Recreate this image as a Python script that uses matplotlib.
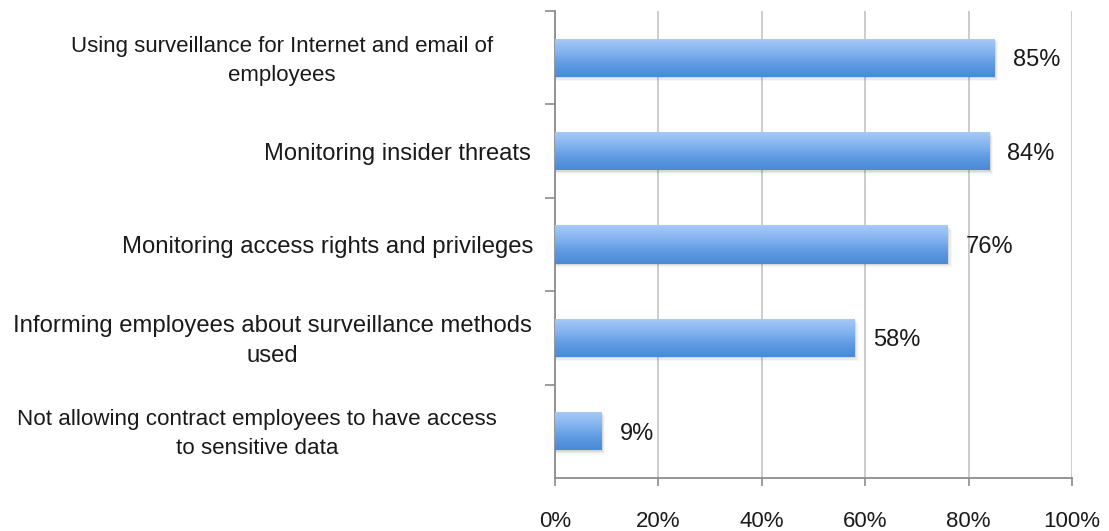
import numpy as np
import matplotlib
matplotlib.use("Agg")
import matplotlib.pyplot as plt
from matplotlib.colors import LinearSegmentedColormap
from matplotlib.ticker import FixedLocator, PercentFormatter

plt.rcParams["font.family"] = ["Liberation Sans", "DejaVu Sans"]

categories = [
    "Using surveillance for Internet and email of\nemployees",
    "Monitoring insider threats",
    "Monitoring access rights and privileges",
    "Informing employees about surveillance methods\nused",
    "Not allowing contract employees to have access\nto sensitive data",
]
values = [85, 84, 76, 58, 9]
x_ticks = [0, 20, 40, 60, 80, 100]

# gap between each category label's right edge and the value axis (pixels),
# and the font size of each category label
label_gap_px = [62, 24, 22, 23, 58]
label_sizes = [16, 17.1, 17.2, 17.2, 16.1]

fig = plt.figure(figsize=(11.09, 5.31), dpi=100)
ax = fig.add_axes([555 / 1109, 1 - 478 / 531, (1072 - 555) / 1109, (478 - 11) / 531])

ypos = np.arange(len(categories))
bars = ax.barh(ypos, values, height=0.41, color="none", edgecolor="none", zorder=3)

# vertical blue gradient inside each bar, with a soft drop shadow
grad_cmap = LinearSegmentedColormap.from_list(
    "bar_grad", ["#a9cbf6", "#86b5f0", "#5f9be3", "#4a89d6"])
gradient = np.linspace(0, 1, 256).reshape(-1, 1)
for bar in bars:
    x0, y0 = bar.get_x(), bar.get_y()
    w, h = bar.get_width(), bar.get_height()
    for k, a in enumerate([0.10, 0.07, 0.04]):
        ax.add_patch(plt.Rectangle((x0, y0 + 0.015 * (k + 1)), w + 0.25 * (k + 1), h,
                                   facecolor="#404040", alpha=a, edgecolor="none", zorder=2))
    im = ax.imshow(gradient, cmap=grad_cmap, aspect="auto",
                   extent=[x0, x0 + w, y0 + h, y0], zorder=3.5, interpolation="bicubic")
    im.set_clip_path(bar)

ax.set_xlim(0, 100)
ax.set_ylim(len(categories) - 0.5, -0.5)

px = 72 / 100  # points per pixel at this dpi

# value labels
for y, v in zip(ypos, values):
    ax.annotate(f"{v}%", xy=(v, y), xytext=(13, -2.5 * px), textcoords="offset points",
                va="center", ha="left", fontsize=17, color="#1a1a1a")

# category labels placed to the left of the axis
for y, text, gap, size in zip(ypos, categories, label_gap_px, label_sizes):
    ax.annotate(text, xy=(0, y), xycoords="data",
                xytext=(-gap * px, -3 * px), textcoords="offset points",
                ha="right", va="center", multialignment="center",
                fontsize=size, color="#1a1a1a", linespacing=1.49)

# axes styling
ax.set_xticks(x_ticks)
ax.xaxis.set_major_formatter(PercentFormatter(decimals=0))
ax.tick_params(axis="x", length=6, width=1.2, color="#8c8c8c", pad=17.5,
               labelsize=16, labelcolor="#1a1a1a")
ax.set_yticks([])
ax.yaxis.set_minor_locator(FixedLocator(np.arange(-0.5, len(categories) - 0.5, 1.0)))
ax.tick_params(axis="y", which="minor", length=7, width=1.2, color="#8c8c8c", left=True)
ax.grid(axis="x", color="#c8c8c8", linewidth=1.3, zorder=0)
ax.set_axisbelow(True)
for side in ["top", "right"]:
    ax.spines[side].set_visible(False)
for side in ["left", "bottom"]:
    ax.spines[side].set_color("#8c8c8c")
    ax.spines[side].set_linewidth(1.3)

fig.savefig("out.png", dpi=100)
